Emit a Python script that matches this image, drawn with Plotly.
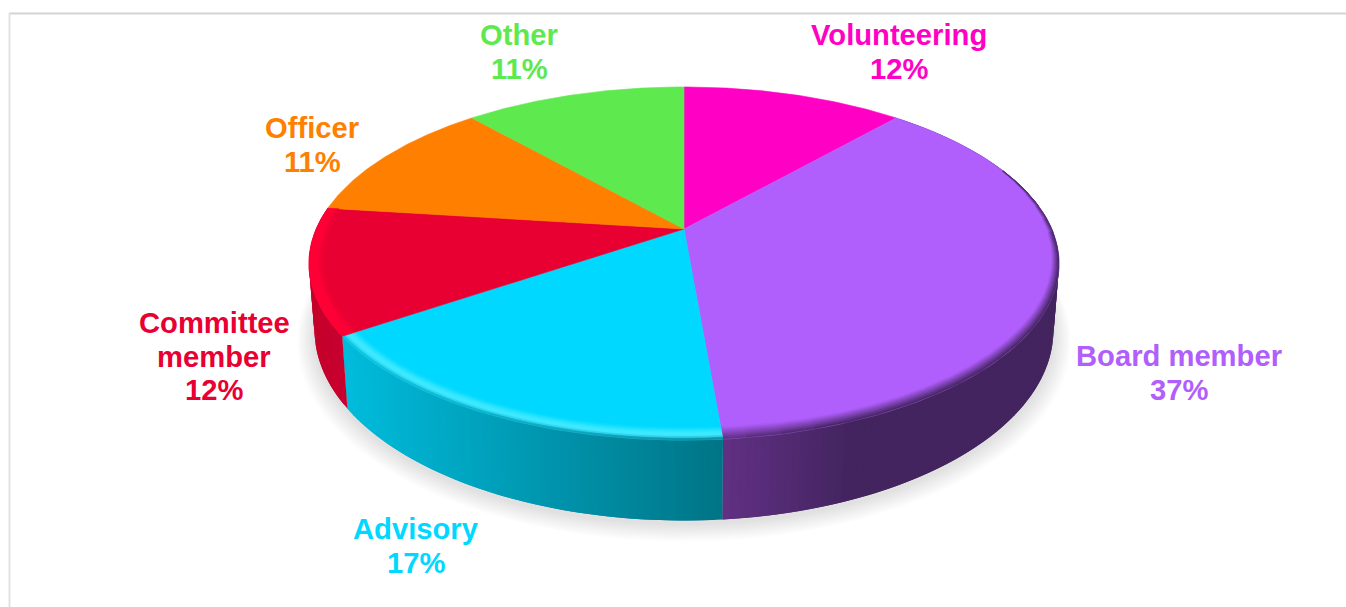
import numpy as np
import plotly.graph_objects as go

categories = ["Volunteering", "Board member", "Advisory", "Committee member", "Officer", "Other"]
values = [11.5, 37.14, 16.86, 11.5, 11.5, 11.5]
percent_labels = ["12%", "37%", "17%", "12%", "11%", "11%"]
face_colors = ["#ff00c4", "#b05ffc", "#00d8ff", "#e80032", "#ff8000", "#5ee94e"]
# (x-left colour, x-right colour) of the side wall
wall_left = [None, "#613084", "#00bcdc", "#c40029", None, None]
wall_right = [None, "#43245f", "#007486", "#c80030", None, None]
rim_highlight = [None, None, "#3fe9ff", "#ff0036", None, None]
label_lines = [["Volunteering", "12%"], ["Board member", "37%"], ["Advisory", "17%"],
               ["Committee", "member", "12%"], ["Officer", "11%"], ["Other", "11%"]]
label_x = [899, 1179, 416, 214, 312, 519]
label_y = [35, 356, 529, 323, 128, 35]
LINE_H = 33.5
FONT = "Liberation Sans, Arial, sans-serif"

# projection of the disc
CX, CY = 684.0, 229.0
R, H, K = 367.8, 169.8, 0.1955
BS_X, BS_Y, B_Y0 = 0.985, 1.078, 293.0


def top(theta, r=1.0):
    u, v = r * np.sin(theta), r * np.cos(theta)
    d = 1 + K * v
    return CX + R * u / d, CY - H * v / d


def bottom(theta, r=1.0):
    x, y = top(theta, r)
    return CX + BS_X * (x - CX), B_Y0 + BS_Y * (y - CY)


def hex2rgb(c):
    return np.array([int(c[i:i + 2], 16) for i in (1, 3, 5)], float)


def mix(a, b, t):
    c = hex2rgb(a) * (1 - t) + hex2rgb(b) * t
    return "rgb(%d,%d,%d)" % tuple(np.round(c))


def rgb_hex(s):
    return "#%02x%02x%02x" % tuple(int(p) for p in s[4:-1].split(","))


def poly(x, y, color, line=True):
    return go.Scatter(x=list(x), y=list(y), mode="lines", fill="toself", fillcolor=color,
                      line=dict(color=color if line else "rgba(0,0,0,0)", width=0.6 if line else 0),
                      hoverinfo="skip", showlegend=False)


def rim_width(t):
    deg = np.degrees(t)
    if deg <= 180:
        return 0.05 * max(0.0, (deg - 60) / 120) ** 0.9
    if deg > 300:
        return 0.0
    return 0.050 - 0.012 * np.sin((deg - 180) / 90 * np.pi / 2) - 0.022 * max(0, (deg - 270) / 30)


traces = []
edges = np.radians(np.concatenate([[0], np.cumsum(values)]) * 3.6)

# soft ground shadow
all_t = np.linspace(0, 2 * np.pi, 241)
for i in range(10, 0, -1):
    e = 0.0045 * i
    bx, by = bottom(all_t, 1 + e)
    traces.append(poly(bx, by + 3 + 0.5 * i, "rgba(0,0,0,0.012)", line=False))

# side wall with gradient strips; each strip runs on under the next one so no seam shows
for i in range(len(values)):
    if wall_left[i] is None:
        continue
    t0, t1 = edges[i], edges[i + 1]
    ts = np.linspace(t0, t1, int(np.degrees(t1 - t0)) + 2)
    xmin = min(top(ts)[0])
    xmax = max(top(ts)[0])
    n = len(ts) - 1
    for j in range(n):
        last = min(j + 2, n)
        span = ts[j:last + 1]
        xm = top((ts[j] + ts[j + 1]) / 2)[0]
        f = (xm - xmin) / (xmax - xmin)
        if categories[i] == "Board member":
            f = min(1.0, f * 2.6)
        col = mix(wall_left[i], wall_right[i], f)
        x1, y1 = top(span)
        x2, y2 = bottom(span)
        traces.append(poly(np.r_[x1, x2[::-1], x1[0]], np.r_[y1, y2[::-1], y1[0]], col, line=False))

# top faces
for i in range(len(values)):
    ts = np.linspace(edges[i], edges[i + 1], 80)
    ax, ay = top(ts)
    tr = poly(np.r_[CX, ax, CX], np.r_[CY, ay, CY], face_colors[i])
    tr.hoverinfo = "text"
    tr.text = f"{categories[i]}: {percent_labels[i]}"
    tr.hoveron = "fills"
    traces.append(tr)

# bevel along the visible rim
STEPS = 7
for i in range(len(values)):
    if wall_left[i] is None:
        continue
    ts = np.linspace(edges[i], edges[i + 1], 90)
    ws = np.array([rim_width(t) for t in ts])
    for s in range(STEPS):
        f0, f1 = s / STEPS, (s + 1) / STEPS
        r_in = 1 - ws * (1 - f0)
        r_out = 1 - ws * (1 - f1)
        xi, yi = top(ts, r_in)
        xo, yo = top(ts, r_out)
        fm = (f0 + f1) / 2
        for j in range(0, len(ts) - 1, 3):
            k = min(j + 3, len(ts) - 1)
            if ws[j:k + 1].mean() < 0.004:
                continue
            fx = (xi[j] - xi.min()) / max(1.0, xi.max() - xi.min())
            if categories[i] == "Board member":
                fx = min(1.0, fx * 2.6)
            wall = rgb_hex(mix(wall_left[i], wall_right[i], fx))
            if rim_highlight[i] is None:
                col = mix(face_colors[i], wall, fm)
            elif fm < 0.72:
                col = mix(face_colors[i], rim_highlight[i], min(1.0, fm / 0.45))
            else:
                end = wall if categories[i] == "Advisory" else rim_highlight[i]
                col = mix(rim_highlight[i], end, (fm - 0.72) / 0.28)
            traces.append(poly(
                np.r_[xi[j:k + 1], xo[j:k + 1][::-1], xi[j]],
                np.r_[yi[j:k + 1], yo[j:k + 1][::-1], yi[j]], col, line=True))

fig = go.Figure(traces)

for i, lines in enumerate(label_lines):
    for n, text in enumerate(lines):
        fig.add_annotation(x=label_x[i], y=label_y[i] + n * LINE_H, text=f"<b>{text}</b>", showarrow=False,
                           xanchor="center", yanchor="middle",
                           font=dict(family=FONT, size=29.2, color=face_colors[i]))

fig.add_shape(type="line", x0=9, x1=1346, y0=13.5, y1=13.5, line=dict(color="#d4d4d4", width=2))
fig.add_shape(type="line", x0=9.5, x1=9.5, y0=13, y1=607, line=dict(color="#e2e2e2", width=2))

fig.update_layout(
    width=1346, height=607, margin=dict(l=0, r=0, t=0, b=0),
    paper_bgcolor="white", plot_bgcolor="white", showlegend=False,
    xaxis=dict(range=[0, 1346], visible=False, fixedrange=True),
    yaxis=dict(range=[607, 0], visible=False, fixedrange=True),
)
fig.write_html("out.html", config={"displayModeBar": False},
               post_script="document.body.style.margin='0';document.body.style.overflow='hidden';")
